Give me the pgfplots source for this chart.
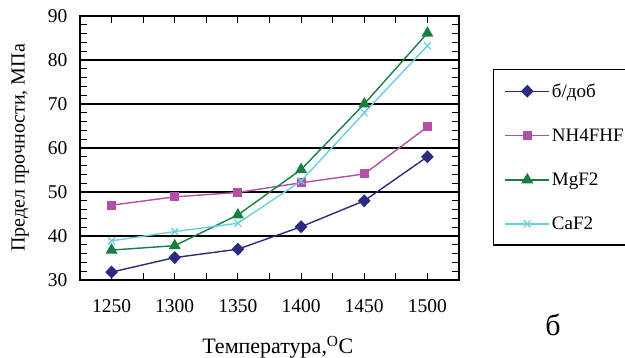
\documentclass[border=0pt]{standalone}
\usepackage{fontspec}
\setmainfont{Liberation Serif}
\usepackage{pgfplots}
\pgfplotsset{compat=1.18}
\definecolor{cnavy}{HTML}{2B2B7F}
\definecolor{cmag}{HTML}{B44FA8}
\definecolor{cgreen}{HTML}{178040}
\definecolor{ccyan}{HTML}{6ACFE0}
\begin{document}
\begin{tikzpicture}[x=1pt,y=1pt]
\path[use as bounding box] (0,0) rectangle (625,358);
\begin{axis}[
  at={(80pt,78pt)}, anchor=south west,
  scale only axis, width=379pt, height=264pt,
  xmin=-0.5, xmax=5.5, ymin=30, ymax=90,
  xtick={0,1,2,3,4,5},
  xticklabels={1250,1300,1350,1400,1450,1500},
  minor xtick={-0.5,0.5,1.5,2.5,3.5,4.5,5.5},
  ytick={30,40,50,60,70,80,90},
  minor ytick={32,34,36,38,42,44,46,48,52,54,56,58,62,64,66,68,72,74,76,78,82,84,86,88},
  major tick length=7pt, minor tick length=7pt,
  tick style={black, line width=1pt},
  ymajorgrids, grid style={black, line width=1.2pt},
  axis line style={black, line width=1.6pt},
  /pgf/number format/assume math mode=true,
  tick label style={font=\fontsize{19.5}{21}\selectfont},
  xticklabel style={yshift=-16pt},
  yticklabel style={xshift=-9pt},
  xlabel={Температура,\textsuperscript{O}C},
  ylabel={Предел прочности, МПа},
  xlabel style={font=\fontsize{22}{24}\selectfont, at={(axis description cs:0.522,-0.254)}, anchor=center},
  ylabel style={font=\fontsize{20}{22}\selectfont, at={(axis description cs:-0.158,0.5)}, anchor=center},
  legend style={at={(axis description cs:1.0897,0.799)}, anchor=north west,
    draw=black, line width=1.2pt, font=\fontsize{19}{21}\selectfont,
    row sep=26pt, inner xsep=11pt, inner ysep=12pt,
    legend cell align=left, text width=68pt},
  legend image code/.code={\draw[mark repeat=2,mark phase=2,line width=1.4pt] plot coordinates {(0pt,0pt)(22pt,0pt)(44pt,0pt)};},
  every axis plot/.append style={line width=1.4pt},
  clip=false,
]
\addplot[cnavy, mark=diamond*, mark size=5.5pt, mark options={xscale=1.3}] coordinates {(0,31.8)(1,35.1)(2,37.0)(3,42.1)(4,48.0)(5,58.0)};
\addlegendentry{б/доб}
\addplot[cmag, mark=square*, mark size=3.8pt] coordinates {(0,47.0)(1,48.9)(2,49.9)(3,52.1)(4,54.1)(5,64.8)};
\addlegendentry{NH4FHF}
\addplot[cgreen, mark=triangle*, mark size=5.5pt] coordinates {(0,36.8)(1,37.8)(2,44.8)(3,55.1)(4,70.0)(5,86.1)};
\addlegendentry{MgF2}
\addplot[ccyan, mark=x, mark size=4.8pt, mark options={line width=1.3pt}] coordinates {(0,38.9)(1,41.0)(2,42.9)(3,52.5)(4,68.0)(5,83.2)};
\addlegendentry{CaF2}
\node[font=\fontsize{30}{32}\selectfont] at (axis description cs:1.248,-0.17) {б};
\end{axis}
\end{tikzpicture}
\end{document}
